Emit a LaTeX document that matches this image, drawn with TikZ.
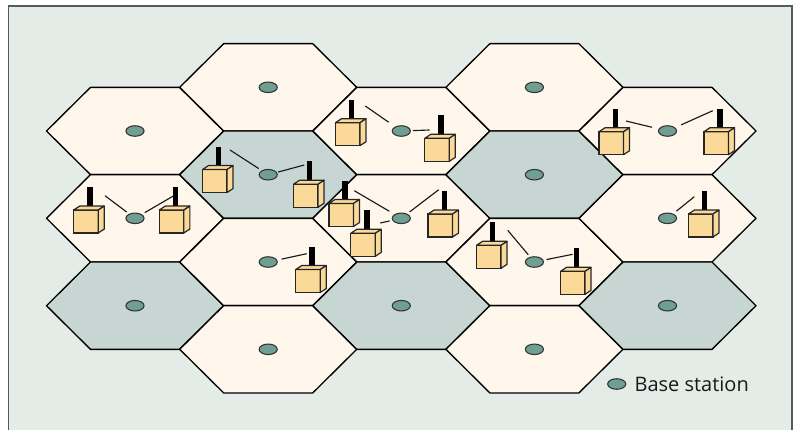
\documentclass[tikz,border=0pt]{standalone}
\usepackage{fontspec}
\setmainfont{Open Sans}
\usetikzlibrary{shapes.geometric, positioning, calc}

\definecolor{panelbg}{HTML}{E3ECE7}
\definecolor{cellcream}{HTML}{FFF6EC}
\definecolor{cellshade}{HTML}{C7D6D3}
\definecolor{basegreen}{HTML}{6F9E93}
\definecolor{termbuff}{HTML}{FBD999}

\tikzset{
  panel/.style={draw=black!65, fill=panelbg, line width=1.1pt},
  hexline/.style={draw=black, line width=1pt, line join=round},
  basest/.style={ellipse, draw=black!80, fill=basegreen, line width=0.8pt, inner sep=0pt, minimum width=13.6pt, minimum height=7.9pt},
  termbox/.style={draw=black!85, fill=termbuff, line width=0.9pt, inner sep=0pt, outer sep=0pt, minimum width=18.4pt, minimum height=17.2pt},
  termface/.style={draw=black!85, fill=termbuff, line width=0.9pt, line join=round},
  mast/.style={fill=black},
  linkline/.style={draw=black!90, line width=0.85pt},
}

\begin{document}
\begin{tikzpicture}[x=0.75pt, y=-0.75pt]
\clip (0,0) rectangle (798,429);
\draw[panel] (8.5,6) rectangle (792,445);

% cells
\foreach \n/\x/\y/\c in {a/135/131/cellcream, b/135/218.3/cellcream, c/135/305.7/cellshade,
    d/268.2/87.3/cellcream, e/268.2/174.7/cellshade, f/268.2/262/cellcream, g/268.2/349.3/cellcream,
    h/401.3/131/cellcream, i/401.3/218.3/cellcream, j/401.3/305.7/cellshade,
    k/534.4/87.3/cellcream, l/534.4/174.7/cellshade, m/534.4/262/cellcream, n/534.4/349.3/cellcream,
    o/667.5/131/cellcream, p/667.5/218.3/cellcream, q/667.5/305.7/cellshade} {
  \draw[hexline, fill=\c] (\x-88.5,\y) -- (\x-44.5,\y-43.65) -- (\x+44.5,\y-43.65)
    -- (\x+88.5,\y) -- (\x+44.5,\y+43.65) -- (\x-44.5,\y+43.65) -- cycle;
  \node[basest] (bs\n) at (\x,\y) {};
}

% links, base station to free end
\foreach \i/\s/\ex/\ey in {b/10.4/105/195.7, b/11.3/173.3/196,
    e/11.3/230/150, e/10.3/304.3/165, f/13.7/306.7/253.7,
    h/15.4/365.3/106, h/11.7/429.7/130,
    i/13.9/354.3/190.7, i/12/380.3/223, i/10.4/438.7/189.7,
    m/9.5/507.7/230.3, m/12.3/572.7/254.3,
    o/15.8/626/121, o/15/712.7/110.7, p/11.4/694.3/196.7} {
  \coordinate (end) at (\ex,\ey);
  \draw[linkline, shorten <=\s*0.75pt] (bs\i.center) -- (end);
}

% terminals
\foreach \t/\x/\y in {ta/86/221.5, tb/171.6/221.5, tc/214.8/181, td/305.8/195.7, te/308/281,
    tf/347.7/134.2, tg/437/149.8, th/341.2/215, ti/363/244.8, tj/440.3/225.5,
    tk/488.8/256.8, tl/572.8/282.8, tm/611.3/143.2, tn/716.2/143.2, tp/700.7/225.5} {
  \fill[mast] (\x+1.2,\y-34.4) rectangle (\x+6.6,\y-11);
  \node[termbox] (\t) at (\x,\y) {};
  \draw[termface] (\t.north west) -- ++(6,-4) -- ++(24.5,0) -- (\t.north east) -- cycle;
  \draw[termface] (\t.north east) -- ++(6,-4) -- ++(0,23) -- (\t.south east) -- cycle;
}

% legend
\node[basest] (keybs) at (616.7,384) {};
\node[right=6pt of keybs, font=\fontsize{15}{18}\selectfont, inner sep=0pt, text=black!90] (keytext) {Base station};
\end{tikzpicture}
\end{document}
